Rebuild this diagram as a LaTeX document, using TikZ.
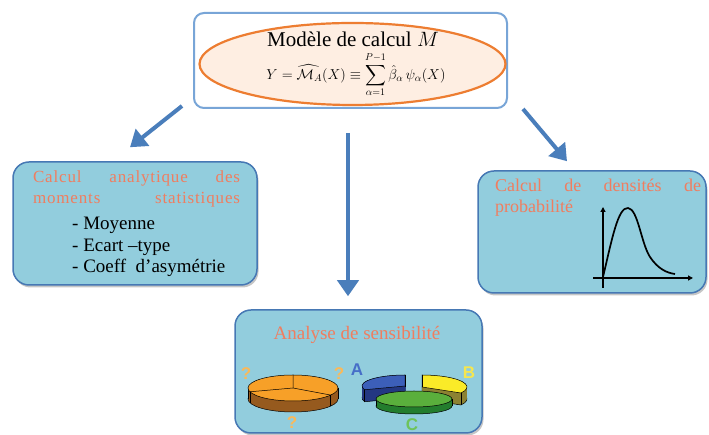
\documentclass[tikz,border=0pt]{standalone}
\usepackage{amsmath,amssymb}
\usepackage{fontspec}
\setmainfont{Liberation Serif}
\setsansfont{Liberation Sans}
\usepackage{tikz}
\usetikzlibrary{arrows.meta,positioning,calc,shapes.geometric,shadows}
\usepackage{xcolor}

\definecolor{fondbleu}{RGB}{146,205,221}
\definecolor{bordbleu}{RGB}{70,120,180}
\definecolor{bordhaut}{RGB}{120,165,215}
\definecolor{flechebleu}{RGB}{74,126,187}
\definecolor{saumon}{RGB}{240,125,95}
\definecolor{peche}{RGB}{254,238,226}
\definecolor{orangebord}{RGB}{237,125,49}
\definecolor{pieor}{RGB}{247,160,40}
\definecolor{piebrun}{RGB}{150,90,30}
\definecolor{bleuA}{RGB}{60,95,185}
\definecolor{bleuAsombre}{RGB}{35,55,130}
\definecolor{jauneB}{RGB}{250,235,40}
\definecolor{jauneBsombre}{RGB}{140,130,50}
\definecolor{vertC}{RGB}{90,175,60}
\definecolor{vertCsombre}{RGB}{35,125,45}
\definecolor{interro}{RGB}{250,185,90}
\definecolor{lettreA}{RGB}{70,110,200}
\definecolor{lettreB}{RGB}{245,230,80}
\definecolor{lettreC}{RGB}{110,195,90}

% part de camembert en relief : cx, cy, rx, ry, angle1, angle2, epaisseur, dessus, cote
\newcommand{\tranche}[9]{%
  \filldraw[fill=#9,line width=.5pt] (#1,#2-#7) -- ++(#5:#3pt and #4pt)
    arc[start angle=#5,end angle=#6,x radius=#3pt,y radius=#4pt] -- cycle;
  \foreach \k in {1,...,#7}
    \fill[#9] (#1,#2-#7+\k) -- ++(#5:#3pt and #4pt)
      arc[start angle=#5,end angle=#6,x radius=#3pt,y radius=#4pt] -- cycle;
  \filldraw[fill=#8,line width=.5pt] (#1,#2) -- ++(#5:#3pt and #4pt)
    arc[start angle=#5,end angle=#6,x radius=#3pt,y radius=#4pt] -- cycle;
  \draw[line width=.5pt] (#1,#2) ++(#5:#3pt and #4pt) -- ++(0,-#7);
  \draw[line width=.5pt] (#1,#2) ++(#6:#3pt and #4pt) -- ++(0,-#7);
}
% camembert entier : cx, cy, rx, ry, epaisseur, dessus, cote
\newcommand{\galette}[7]{%
  \filldraw[fill=#7,line width=.5pt] (#1,#2-#5) ellipse[x radius=#3pt,y radius=#4pt];
  \fill[#7] (#1-#3,#2-#5) rectangle (#1+#3,#2);
  \draw[line width=.5pt] (#1-#3,#2) -- ++(0,-#5) (#1+#3,#2) -- ++(0,-#5);
  \filldraw[fill=#6,line width=.5pt] (#1,#2) ellipse[x radius=#3pt,y radius=#4pt];
}

\begin{document}
\begin{tikzpicture}[x=1pt,y=1pt,
    boite/.style={draw=bordbleu,line width=1.5pt,fill=fondbleu,rounded corners=16pt,
      drop shadow={shadow xshift=1.5pt,shadow yshift=-2.5pt,opacity=.45}},
    fleche/.style={draw=flechebleu,line width=4pt,-{Triangle[length=16pt,width=21pt]}},
    titre/.style={text=saumon,inner sep=0pt},
    puce/.style={anchor=west,inner sep=0pt,font=\fontsize{19}{22}\selectfont},
    lettre/.style={inner sep=0pt,font=\sffamily\bfseries\fontsize{17}{19}\selectfont},
    axe/.style={line width=1.8pt,-{Triangle[length=5pt,width=5pt]}}]
  \useasboundingbox (0,0) rectangle (709,435);

  % modele central
  \node[draw=bordhaut,line width=2pt,fill=white,rounded corners=10pt,
    minimum width=313pt,minimum height=95pt] (modele) at (350.5,374.5) {};
  \node[ellipse,draw=orangebord,line width=2.2pt,fill=peche,
    minimum width=306pt,minimum height=82pt] (forme) at (352.5,371) {};
  \node[inner sep=0pt,font=\fontsize{21}{24}\selectfont] (nom) at (353,396)
    {Modèle de calcul $M$};
  \node[inner sep=0pt,font=\fontsize{14.5}{16}\selectfont] (formule) at (356,360)
    {$\displaystyle Y = \widehat{\mathcal{M}_{A}}(X) \equiv \sum_{\alpha=1}^{P-1} \hat{\beta}_{\alpha}\,\psi_{\alpha}(X)$};

  % trois boites
  \node[boite,minimum width=244pt,minimum height=123pt] (moments) at (135,211.5) {};
  \node[boite,minimum width=228pt,minimum height=122pt] (densite) at (592,203) {};
  \node[boite,minimum width=247pt,minimum height=123pt] (sensib) at (358.5,63.5) {};

  % fleches
  \draw[fleche] ([xshift=-11pt,yshift=3pt]modele.south west) -- ([xshift=-5pt,yshift=14pt]moments.north);
  \draw[fleche] ([xshift=-2.5pt,yshift=-24pt]modele.south) -- ([xshift=-10.5pt,yshift=13pt]sensib.north);
  \draw[fleche] ([xshift=15pt]modele.south east) -- ([xshift=-25pt,yshift=9pt]densite.north);

  % moments statistiques
  \node[titre,font=\fontsize{17}{20}\selectfont\addfontfeatures{LetterSpace=5}] (mom1) at (136.5,257)
    {\makebox[207pt][s]{Calcul analytique des}};
  \node[titre,font=\fontsize{17}{20}\selectfont\addfontfeatures{LetterSpace=5}] (mom2) at (136.5,235)
    {\makebox[207pt][s]{moments statistiques}};
  \node[puce] (moy) at (72,210) {- Moyenne};
  \node[puce] (ecart) at (72,188) {- Ecart –type};
  \node[puce] (asym) at (72,167) {- Coeff~ d'asymétrie};

  % densite de probabilite
  \node[titre,font=\fontsize{18}{21}\selectfont] (dens1) at (598,250)
    {\makebox[206pt][s]{Calcul de densités de}};
  \node[titre,font=\fontsize{18}{21}\selectfont,anchor=west] (dens2) at (495,227) {probabilité};
  \draw[axe] (603,147) -- (603,228);
  \draw[axe] (593,157) -- (693,157);
  \draw[line width=1.7pt] (603,158) .. controls (612,196) and (618,228) .. (628,227)
    .. controls (638,226) and (641,192) .. (650,178)
    .. controls (658,166) and (667,162) .. (675,161);

  % sensibilite
  \node[titre,font=\fontsize{19}{22}\selectfont] (sens) at (357,100) {Analyse de sensibilité};
  \galette{293}{47}{45}{13}{11}{pieor}{piebrun}
  \draw[line width=.5pt] (293,47) -- ++(90:45pt and 13pt)
    (293,47) -- ++(197:45pt and 13pt) (293,47) -- ++(-33:45pt and 13pt);
  \draw[line width=.5pt] (293,47) ++(197:45pt and 13pt) -- ++(0,-11)
    (293,47) ++(-33:45pt and 13pt) -- ++(0,-11);
  \node[lettre,text=interro] (q1) at (246,61) {?};
  \node[lettre,text=interro] (q2) at (339,61) {?};
  \node[lettre,text=interro] (q3) at (292,12) {?};

  \tranche{405}{49}{43}{11}{90}{200}{12}{bleuA}{bleuAsombre}
  \tranche{422}{48}{45}{12}{-30}{90}{12}{jauneB}{jauneBsombre}
  \galette{414}{36}{38}{8}{7}{vertC}{vertCsombre}
  \node[lettre,text=lettreA] (la) at (357,65) {A};
  \node[lettre,text=lettreB] (lb) at (469,62) {B};
  \node[lettre,text=lettreC] (lc) at (412,10) {C};
\end{tikzpicture}
\end{document}
